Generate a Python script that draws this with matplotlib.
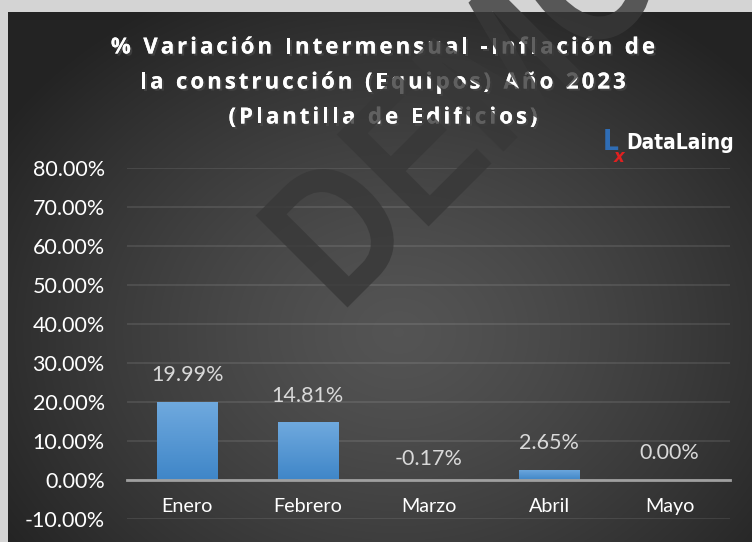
import numpy as np
import matplotlib
matplotlib.use("Agg")
import matplotlib.pyplot as plt
import matplotlib.patheffects as pe
from matplotlib.textpath import TextPath
from matplotlib.font_manager import FontProperties
from matplotlib.patches import PathPatch
from matplotlib.transforms import Affine2D

# Data
meses = ["Enero", "Febrero", "Marzo", "Abril", "Mayo"]
variacion = [19.99, 14.81, -0.17, 2.65, 0.00]
etiquetas = ["19.99%", "14.81%", "-0.17%", "2.65%", "0.00%"]
y_ticks = [-10, 0, 10, 20, 30, 40, 50, 60, 70, 80]
titulo = ["% Variación Intermensual -Inflación de",
          "la construcción (Equipos) Año 2023",
          "(Plantilla de Edificios)"]

W, H = 752, 542
fig = plt.figure(figsize=(W / 100, H / 100), dpi=100)
fig.patch.set_facecolor("#d4d4d4")

# dark panel with radial gradient
bg = fig.add_axes([8 / W, 0, 1 - 8 / W, 1 - 12 / H])
bg.set_axis_off()
yy, xx = np.mgrid[0:530, 0:744]
cx, cy = 390, 320
r = np.sqrt(((xx - cx) / 470.0) ** 2 + ((yy - cy) / 380.0) ** 2)
r = np.clip(r, 0, 1)
val = 0.33 - 0.19 * r ** 1.3
img = np.dstack([val, val, val])
bg.imshow(img, aspect="auto", extent=[0, 1, 0, 1], origin="upper")
bg.set_xlim(0, 1)
bg.set_ylim(0, 1)

# main axes
ax = fig.add_axes([127 / W, 1 - 519 / H, (730 - 127) / W, (519 - 168) / H])
ax.set_facecolor("none")
x = np.arange(len(meses))
bars = ax.bar(x, variacion, width=0.5, color="#5b9bd5", zorder=3)

# vertical gradient on the bars
grad = np.linspace(0, 1, 64).reshape(-1, 1)
cmap = matplotlib.colors.LinearSegmentedColormap.from_list("b", ["#3f86c8", "#6fa9de"])
for b in bars:
    x0, y0 = b.get_x(), b.get_y()
    w, h = b.get_width(), b.get_height()
    if abs(h) < 1e-9:
        continue
    im = ax.imshow(grad, cmap=cmap, aspect="auto", origin="lower",
                   extent=[x0, x0 + w, min(y0, y0 + h), max(y0, y0 + h)],
                   zorder=3.5)
    im.set_clip_path(b)
ax.set_xlim(-0.5, len(meses) - 0.5)
ax.set_ylim(-10, 80)

ax.set_yticks(y_ticks)
ax.set_yticklabels(["%.2f%%" % t for t in y_ticks])
ax.grid(axis="y", color="white", alpha=0.1, linewidth=1.3, zorder=0)
ax.set_axisbelow(True)
for s in ["top", "right", "left"]:
    ax.spines[s].set_visible(False)
ax.spines["bottom"].set_position(("data", 0))
ax.spines["bottom"].set_color("#a0a0a0")
ax.spines["bottom"].set_linewidth(2)
ax.spines["bottom"].set_zorder(4)
ax.set_xticks(x)
ax.set_xticklabels(meses)
ax.tick_params(axis="y", length=0, pad=16, labelsize=15.5, labelcolor="white")
ax.tick_params(axis="x", length=0, pad=13, labelsize=14.2, labelcolor="white")
for lab in ax.get_xticklabels() + ax.get_yticklabels():
    lab.set_fontfamily("Lato")

for xi, v, t in zip(x, variacion, etiquetas):
    off = 12 if v >= 0 else 8
    ax.annotate(t, (xi, max(v, 0)), xytext=(0, off), textcoords="offset points",
                ha="center", va="bottom", color="#d9d9d9", fontsize=15.5,
                fontfamily="Lato")

# title, drawn letter by letter to get the wide tracking
fig.canvas.draw()
renderer = fig.canvas.get_renderer()
sh = [pe.withSimplePatchShadow(offset=(1.5, -1.5), alpha=0.6), pe.Normal()]
gap = 3.0
for i, line in enumerate(titulo):
    ypix = 48 + 35 * i
    widths = []
    for ch in line:
        t = fig.text(0, 0, ch if ch != " " else "n", fontsize=16, fontweight="bold",
                     fontfamily="Open Sans")
        wpx = t.get_window_extent(renderer).width
        if ch == " ":
            wpx *= 0.45
        widths.append(wpx)
        t.remove()
    total = sum(widths) + gap * (len(line) - 1)
    xpos = 383 - total / 2
    for ch, wpx in zip(line, widths):
        if ch != " ":
            fig.text(xpos / W, 1 - ypix / H, ch, ha="left", va="center",
                     color="white", fontsize=16, fontweight="bold",
                     fontfamily="Open Sans", path_effects=sh)
        xpos += wpx + gap

# logo
fig.text(603 / W, 1 - 142 / H, "L", color="#2f6db5", fontsize=20,
         fontweight="bold", fontfamily="DejaVu Sans", fontstretch="condensed",
         ha="left", va="center")
fig.text(614 / W, 1 - 157 / H, "x", color="#e02020", fontsize=12,
         fontweight="bold", fontfamily="DejaVu Sans", ha="left", va="center",
         style="italic")
fig.text(626 / W, 1 - 143 / H, "DataLaing", color="white", fontsize=15,
         fontweight="bold", fontfamily="DejaVu Sans", fontstretch="condensed",
         ha="left", va="center")

# watermark (narrowed text path, in pixel coordinates)
tp = TextPath((0, 0), "DEMO", size=189,
              prop=FontProperties(family="Liberation Sans", weight="bold"))
tr = Affine2D().scale(0.84, 1.0).rotate_deg(45).translate(340, H - 315)
wm = PathPatch(tr.transform_path(tp), facecolor="#383838", edgecolor="none",
               alpha=0.8, transform=matplotlib.transforms.IdentityTransform(),
               zorder=10)
fig.add_artist(wm)

fig.savefig("out.png", dpi=100, facecolor=fig.get_facecolor())
